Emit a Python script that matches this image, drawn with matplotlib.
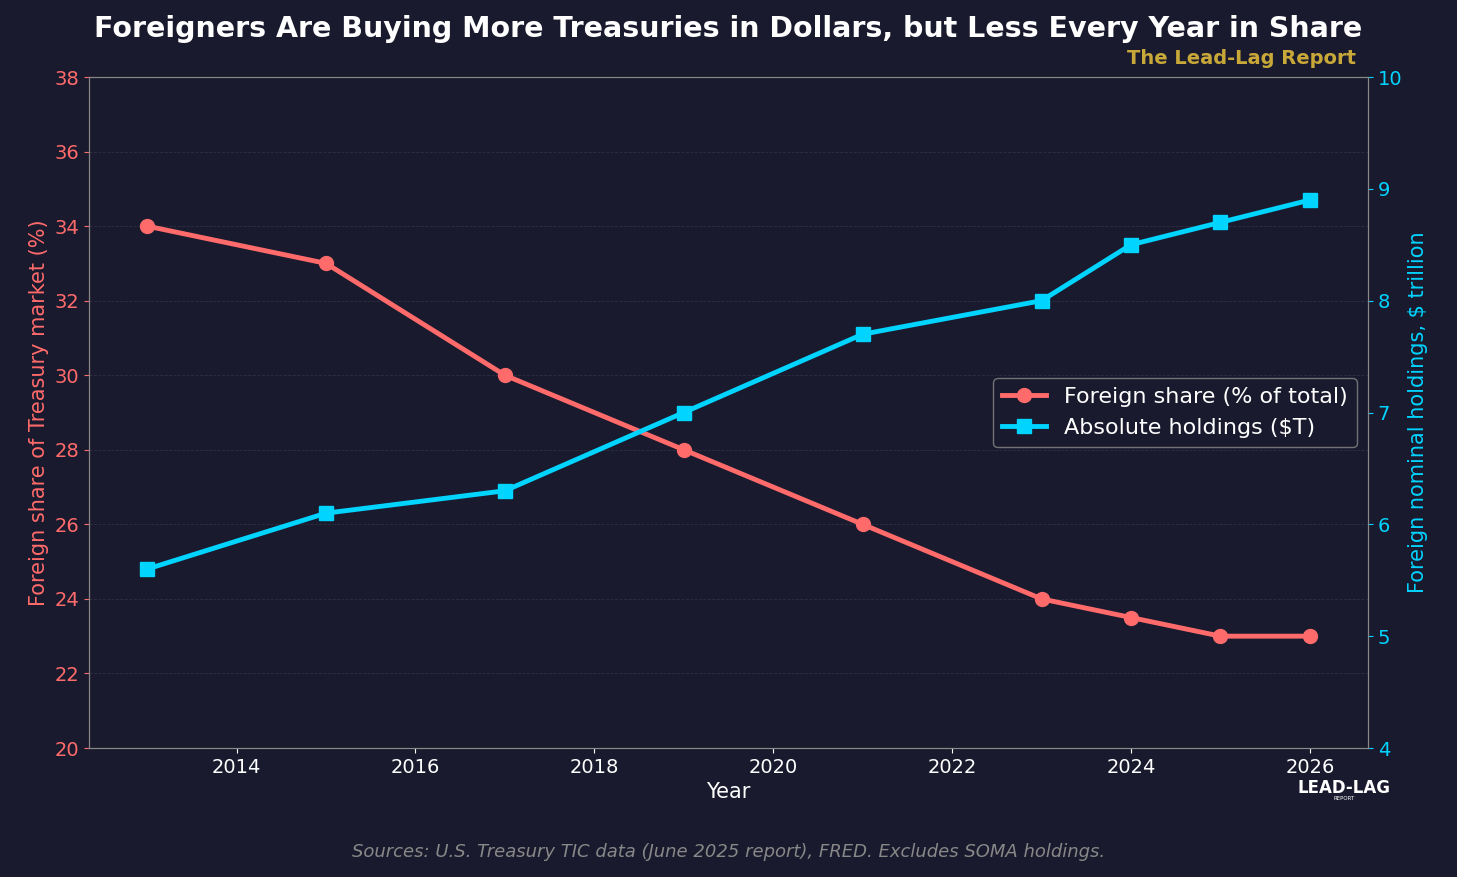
import matplotlib
matplotlib.use("Agg")
import matplotlib.pyplot as plt

years = [2013, 2015, 2017, 2019, 2021, 2023, 2024, 2025, 2026]
share_pct = [34, 33, 30, 28, 26, 24, 23.5, 23, 23]
holdings_tn = [5.6, 6.1, 6.3, 7.0, 7.7, 8.0, 8.5, 8.7, 8.9]

BG = "#1a1a2e"
RED = "#ff6b6b"
CYAN = "#00d4ff"

fig = plt.figure(figsize=(14.57, 8.77), dpi=100, facecolor=BG)
ax = fig.add_axes([89 / 1457, 1 - 748 / 877, (1368 - 89) / 1457, (748 - 77) / 877])
ax.set_facecolor(BG)
ax2 = ax.twinx()

l1, = ax.plot(years, share_pct, color=RED, lw=3.5, marker="o", ms=10, label="Foreign share (% of total)")
l2, = ax2.plot(years, holdings_tn, color=CYAN, lw=3.5, marker="s", ms=10, label="Absolute holdings ($T)")

ax.set_ylim(20, 38)
ax2.set_ylim(4, 10)
ax.set_xlim(2012.35, 2026.65)
ax.set_xticks(range(2014, 2027, 2))
ax.grid(axis="y", color="#444455", ls="--", lw=0.6, alpha=0.5)

ax.tick_params(axis="x", colors="white", labelsize=14)
ax.tick_params(axis="y", colors=RED, labelcolor=RED, labelsize=14)
ax2.tick_params(axis="y", colors=CYAN, labelcolor=CYAN, labelsize=14)
for a in (ax, ax2):
    for s in a.spines.values():
        s.set_color("#888888")

ax.set_xlabel("Year", color="white", fontsize=15)
ax.set_ylabel("Foreign share of Treasury market (%)", color=RED, fontsize=15)
ax2.set_ylabel("Foreign nominal holdings, $ trillion", color=CYAN, fontsize=15)

leg = ax.legend(handles=[l1, l2], loc="center right", bbox_to_anchor=(1.0, 0.5),
                fontsize=16, facecolor=BG, edgecolor="#888888", labelcolor="white")

fig.text(0.5, 0.967, "Foreigners Are Buying More Treasuries in Dollars, but Less Every Year in Share",
         ha="center", va="center", color="white", fontsize=20.5, fontweight="bold")
fig.text(1356 / 1457, 1 - 58 / 877, "The Lead-Lag Report", ha="right", va="center",
         color="#c8a838", fontsize=14, fontweight="bold")
fig.text(0.5, 1 - 852 / 877, "Sources: U.S. Treasury TIC data (June 2025 report), FRED. Excludes SOMA holdings.",
         ha="center", va="center", color="#888888", fontsize=13, style="italic")
fig.text(1344 / 1457, 1 - 788 / 877, "LEAD-LAG", ha="center", va="center",
         color="white", fontsize=12, fontweight="bold")
fig.text(1344 / 1457, 1 - 798 / 877, "REPORT", ha="center", va="center",
         color="white", fontsize=4)

fig.savefig("out.png", dpi=100, facecolor=BG)
